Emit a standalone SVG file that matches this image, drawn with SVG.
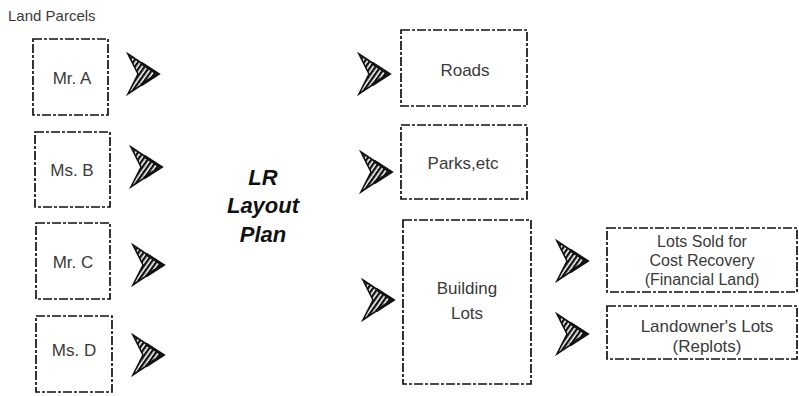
<svg xmlns="http://www.w3.org/2000/svg" xmlns:xlink="http://www.w3.org/1999/xlink" width="799" height="396" viewBox="0 0 799 396">
<style>
.box{fill:none;stroke:#111;stroke-width:1.7;stroke-dasharray:9 2 3 2}
.t{font-family:"Liberation Sans",Arial,sans-serif;font-size:17px;fill:#3a3a3a;text-anchor:middle}
.s{font-size:16px}
.title{font-family:"Liberation Sans",Arial,sans-serif;font-size:22px;font-weight:bold;font-style:italic;fill:#111;text-anchor:middle}
</style>
<defs>
<pattern id="hatch" width="4" height="4" patternUnits="userSpaceOnUse" patternTransform="rotate(35)">
<rect width="4" height="4" fill="#fff"/>
<rect width="2.4" height="4" fill="#111"/>
</pattern>
<g id="arr">
<path d="M-15,-20 L15,0 L-15,20 L-5,0 Z" fill="url(#hatch)" stroke="#111" stroke-width="1.6" stroke-linejoin="miter"/>
<path d="M-2,-11 L15,0 L-2,11" fill="none" stroke="#111" stroke-width="3"/>
</g>
</defs>
<rect width="799" height="396" fill="#fff"/>
<g id="label-land-parcels"><text x="8" y="21" class="t" style="text-anchor:start;font-size:15px">Land Parcels</text></g>
<g id="mr-a"><rect class="box" x="33" y="39" width="75" height="76"/><text class="t" x="72" y="84">Mr. A</text></g>
<g id="ms-b"><rect class="box" x="35" y="132" width="75" height="75"/><text class="t" x="72" y="176">Ms. B</text></g>
<g id="mr-c"><rect class="box" x="36" y="223" width="74" height="76"/><text class="t" x="73" y="268">Mr. C</text></g>
<g id="ms-d"><rect class="box" x="36" y="316" width="76" height="76"/><text class="t" x="74" y="356">Ms. D</text></g>
<g id="lr-layout-plan"><text class="title" x="263" y="185">LR</text><text class="title" x="263" y="213">Layout</text><text class="title" x="263" y="242">Plan</text></g>
<g id="roads"><rect class="box" x="401" y="30" width="126" height="76"/><text class="t" x="465" y="76">Roads</text></g>
<g id="parks"><rect class="box" x="401" y="125" width="126" height="74"/><text class="t" x="463" y="169">Parks,etc</text></g>
<g id="building-lots"><rect class="box" x="403" y="220" width="128" height="164"/><text class="t" x="467" y="294">Building</text><text class="t" x="467" y="319">Lots</text></g>
<g id="lots-sold"><rect class="box" x="607" y="228" width="190" height="64"/><text class="t s" x="702" y="247">Lots Sold for</text><text class="t s" x="702" y="266">Cost Recovery</text><text class="t s" x="702" y="285">(Financial Land)</text></g>
<g id="landowners-lots"><rect class="box" x="607" y="306" width="190" height="53"/><text class="t" x="707" y="332">Landowner's Lots</text><text class="t" x="707" y="352">(Replots)</text></g>
<g id="connectors">
<use xlink:href="#arr" x="143" y="74"/>
<use xlink:href="#arr" x="146" y="167"/>
<use xlink:href="#arr" x="148" y="265"/>
<use xlink:href="#arr" x="148" y="355"/>
<use xlink:href="#arr" x="374" y="74"/>
<use xlink:href="#arr" x="376" y="172"/>
<use xlink:href="#arr" x="378" y="300"/>
<use xlink:href="#arr" x="572" y="261"/>
<use xlink:href="#arr" x="572" y="334"/>
</g>
</svg>
